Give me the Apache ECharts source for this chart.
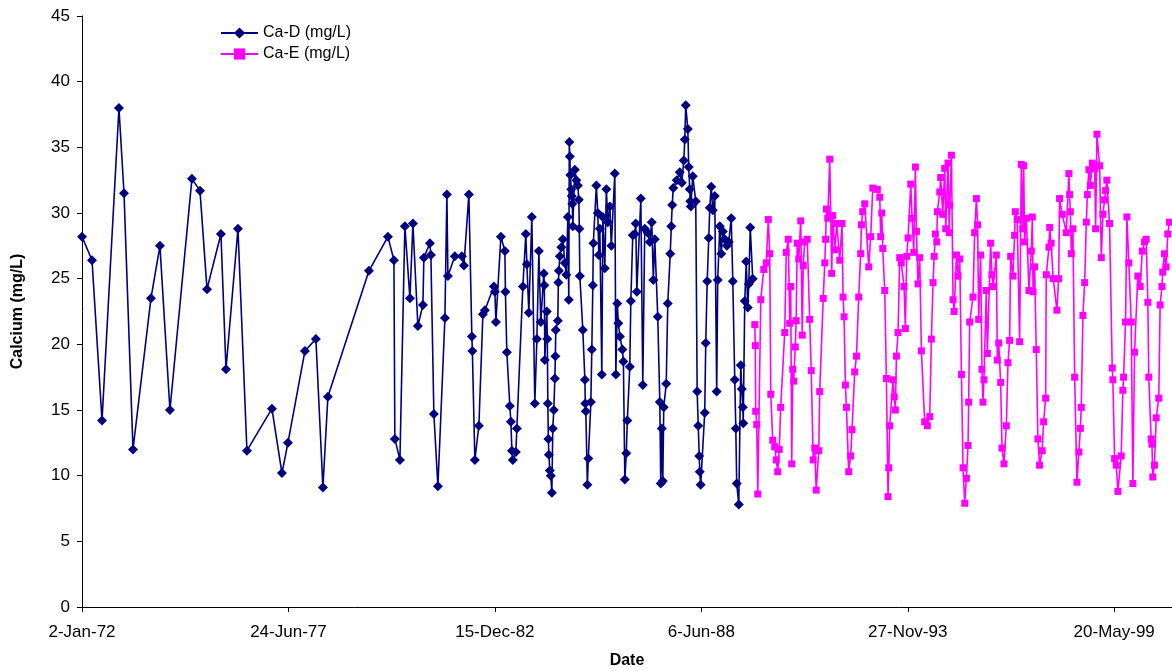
<!DOCTYPE html>
<html>
<head>
<meta charset="utf-8">
<script src="https://cdn.jsdelivr.net/npm/echarts@6/dist/echarts.min.js"></script>
<style>
html,body{margin:0;padding:0;background:#fff;}
#chart{width:1172px;height:671px;}
</style>
</head>
<body>
<div id="chart"></div>
<script>
// Dates are stored as day numbers counted from 2-Jan-1972 (day 0)
const epochUTC = Date.UTC(1972, 0, 2);
const xTickInterval = 2000;
const xMax = 10560;
const yTicks = [0, 5, 10, 15, 20, 25, 30, 35, 40, 45];

const daysD = [0,97,194,358,407,494,668,755,852,1065,1143,1211,1346,1395,1511,1598,1840,1937,1995,2160,2266,2334,2382,2780,
2964,3022,3031,3080,3128,3177,3206,3254,3303,3312,3370,3380,3409,3448,3516,3535,3545,3612,3680,3700,3748,3777,3782,3806,3845,3884,3903,
3990,4000,4010,4058,4097,4102,4116,4145,4155,4165,4174,4203,4213,4271,4300,4310,4329,4358,4387,4407,4426,4445,4474,4479,4484,4503,4508,
4513,4518,4523,4532,4542,4552,4561,4571,4581,4586,4590,4610,4615,4620,4629,4644,4658,4678,4692,4707,4716,4721,4726,4731,4740,4745,4750,
4755,4775,4789,4804,4813,4818,4823,4852,4872,4876,4881,4896,4905,4930,4939,4949,4954,4983,4997,5007,5017,5036,5046,5065,5080,5094,5114,
5128,5162,5172,5186,5196,5211,5235,5245,5259,5273,5283,5307,5317,5336,5356,5365,5375,5414,5433,5452,5481,5501,5520,5535,5549,5578,5598,
5607,5617,5627,5636,5660,5675,5699,5709,5718,5728,5762,5791,5811,5830,5840,5849,5869,5878,5888,5893,5898,5917,5946,5960,5970,5980,5985,
5994,6033,6043,6057,6072,6082,6096,6111,6130,6149,6159,6179,6193,6208,6227,6247,6266,6290,6305,6324,6334,6343,6363,6382,6392,6402,6406,
6421,6435,6450,6460,6474,6498];
const caD = [28.2,26.4,14.2,38.0,31.5,12.0,23.5,27.5,15.0,32.6,31.7,24.2,28.4,18.1,28.8,11.9,15.1,10.2,12.5,19.5,20.4,9.1,16.0,25.6,
28.2,26.4,12.8,11.2,29.0,23.5,29.2,21.4,23.0,26.6,27.7,26.8,14.7,9.2,22.0,31.4,25.2,26.7,26.7,26.0,31.4,20.6,19.5,11.2,13.8,22.3,22.6,
24.4,24.0,21.7,28.2,27.1,24.0,19.4,15.3,14.1,11.9,11.2,11.8,13.6,24.4,28.4,26.1,22.4,29.7,15.5,20.4,27.1,21.7,25.4,24.5,18.8,22.5,20.4,
15.5,12.8,11.6,10.4,10.0,8.7,13.6,15.0,17.4,19.1,21.1,21.8,24.7,25.6,26.7,27.4,28.0,26.2,25.3,29.7,23.4,35.4,34.3,32.9,31.8,31.3,30.7,
29.0,33.3,32.5,32.1,31.0,28.8,25.2,21.1,17.3,15.5,14.9,9.3,11.3,15.6,19.6,24.5,27.7,32.1,30.0,26.8,28.8,17.7,29.7,25.8,31.8,29.3,30.5,
27.5,33.0,17.7,23.1,21.6,20.6,19.6,18.7,9.7,11.7,14.2,18.3,23.3,28.3,28.4,29.2,24.0,31.1,16.9,28.8,28.5,27.8,29.3,24.9,28.0,22.1,15.6,
9.4,13.6,9.6,15.2,17.0,23.1,26.9,29.0,30.6,31.9,32.5,33.1,32.3,34.0,35.6,38.2,36.4,33.5,31.8,30.9,30.5,32.8,30.9,16.4,13.8,11.5,10.3,
9.3,14.8,20.1,24.8,28.1,30.4,32.0,30.2,31.3,16.4,24.9,29.0,26.9,28.6,28.0,27.5,27.8,29.6,24.8,17.3,13.6,9.4,7.8,18.4,16.6,15.2,14.0,
23.3,26.3,22.8,24.6,28.9,25.0];

const daysE = [6518,6523,6527,6537,6547,6576,6605,6629,6649,6663,6673,6692,6711,6726,6740,6755,6769,6808,6823,6842,6857,6866,6876,6886,
6895,6910,6919,6929,6944,6963,6978,6987,7002,7026,7050,7065,7084,7099,7113,7138,7147,7181,7196,7204,7212,7225,7244,7254,7263,7273,7292,
7312,7341,7363,7373,7383,7396,7406,7428,7447,7460,7486,7503,7525,7544,7551,7564,7583,7622,7641,7661,7705,7729,7738,7748,7758,7777,7793,
7809,7816,7825,7857,7869,7880,7890,7906,7922,7937,7964,7977,7990,8003,8029,8042,8058,8074,8084,8099,8116,8132,8164,8190,8213,8229,8245,
8256,8268,8281,8287,8310,8319,8339,8358,8368,8390,8402,8407,8423,8439,8449,8472,8487,8504,8520,8536,8552,8568,8584,8590,8600,8632,8648,
8665,8677,8687,8706,8719,8729,8738,8761,8771,8803,8816,8827,8858,8868,8881,8900,8913,8932,8955,8971,8987,8997,9019,9035,9042,9060,9084,
9100,9113,9123,9132,9149,9174,9197,9207,9214,9229,9245,9261,9277,9302,9316,9336,9342,9368,9375,9389,9409,9445,9462,9471,9497,9536,9561,
9568,9575,9585,9600,9617,9639,9658,9672,9681,9697,9714,9730,9740,9755,9769,9788,9811,9820,9833,9859,9875,9891,9907,9917,9929,9955,9981,
9987,10004,10020,10036,10068,10084,10091,10110,10123,10142,10165,10181,10197,10229,10252,10272,10294,10310,10326,10335,10358,10366,
10374,10390,10407,10432,10445,10463,10470,10487,10503,10519,10535];
const caE = [21.5,19.9,14.9,13.9,8.6,23.4,25.7,26.2,29.5,26.9,16.2,12.7,12.2,11.2,10.3,12.0,15.2,20.9,27.0,28.0,21.6,24.4,10.9,18.1,
17.2,19.8,21.8,27.7,26.5,29.4,20.7,26.0,27.8,28.0,21.9,18.0,11.2,12.1,8.9,11.9,16.4,23.5,26.2,28.0,30.3,29.6,34.1,29.8,25.4,29.8,27.2,
29.2,26.4,29.2,23.6,22.1,16.9,15.2,10.3,11.5,13.5,17.9,19.1,23.6,26.9,29.1,30.1,30.7,25.9,28.2,31.9,31.8,31.2,28.2,30.0,27.3,24.1,17.4,
8.4,10.6,13.8,17.3,16.0,15.0,19.1,20.9,26.6,26.2,24.4,21.2,26.7,28.1,32.2,29.6,27.0,33.5,28.6,24.6,26.6,19.5,14.1,13.8,14.5,20.4,24.7,
26.7,28.4,27.8,30.1,31.6,32.7,29.9,33.4,28.8,33.8,28.5,30.6,34.4,23.4,22.5,26.8,25.2,26.5,17.7,10.6,7.9,9.8,12.3,15.6,21.7,23.6,28.5,
31.1,29.1,21.9,26.8,18.1,15.6,17.3,24.1,19.3,27.7,25.3,24.4,26.8,18.8,20.1,17.1,12.1,10.9,13.8,18.6,20.3,26.7,25.2,28.3,30.1,29.5,20.2,
33.7,28.8,33.6,27.8,29.6,24.1,27.1,29.7,24.0,25.9,19.6,12.8,10.8,11.9,14.1,15.9,25.3,27.4,28.9,27.7,25.0,22.6,25.0,31.1,29.9,28.5,33.0,
31.4,30.1,26.9,28.8,17.5,9.5,11.8,13.6,15.2,22.2,24.7,29.3,31.4,33.3,32.1,33.8,33.4,28.8,36.0,33.6,26.6,29.9,31.0,31.7,32.5,29.2,18.2,
17.3,11.3,10.8,8.8,11.5,16.5,17.5,21.7,29.7,26.2,21.7,9.4,19.4,25.2,24.4,27.1,27.8,28.0,23.2,17.5,
12.8,12.4,9.9,10.8,14.4,15.9,23.0,24.4,25.5,26.9,25.9,28.4,29.3];

const seriesNames = ['Ca-D (mg/L)', 'Ca-E (mg/L)'];
const months = ['Jan','Feb','Mar','Apr','May','Jun','Jul','Aug','Sep','Oct','Nov','Dec'];

function fmtDay(v) {
  const d = new Date(epochUTC + v * 86400000);
  return d.getUTCDate() + '-' + months[d.getUTCMonth()] + '-' + String(d.getUTCFullYear()).slice(2);
}
function pairs(xs, ys) { return xs.map((x, i) => [x, ys[i]]); }

const FONT = '"Liberation Sans", Arial, sans-serif';
const chart = echarts.init(document.getElementById('chart'), null, {renderer: 'canvas'});
chart.setOption({
  animation: false,
  backgroundColor: '#ffffff',
  textStyle: {fontFamily: FONT, color: '#000'},
  grid: {left: 82, right: 0, top: 16, bottom: 64, outerBoundsMode: 'none', containLabel: false},
  legend: {
    orient: 'vertical', left: 215, top: 20, itemWidth: 37, itemHeight: 14, itemGap: 5,
    textStyle: {fontFamily: FONT, fontSize: 16, color: '#000'},
    data: seriesNames
  },
  xAxis: {
    type: 'value', min: 0, max: xMax, interval: xTickInterval,
    name: 'Date', nameLocation: 'middle', nameGap: 46,
    nameTextStyle: {fontFamily: FONT, fontSize: 16, fontWeight: 'bold', color: '#000'},
    axisLine: {show: true, lineStyle: {color: '#000', width: 1}},
    axisTick: {show: true, length: 5, lineStyle: {color: '#000'}},
    splitLine: {show: false},
    axisLabel: {
      fontFamily: FONT, fontSize: 17, color: '#000', margin: 17, showMaxLabel: false,
      formatter: v => (v % xTickInterval === 0 ? fmtDay(v) : '')
    }
  },
  yAxis: {
    type: 'value', min: yTicks[0], max: yTicks[yTicks.length - 1], interval: 5,
    name: 'Calcium (mg/L)', nameLocation: 'middle', nameGap: 56, nameRotate: 90,
    nameTextStyle: {fontFamily: FONT, fontSize: 16, fontWeight: 'bold', color: '#000'},
    axisLine: {show: true, lineStyle: {color: '#000', width: 1}},
    axisTick: {show: true, length: 5, lineStyle: {color: '#000'}},
    splitLine: {show: false},
    axisLabel: {fontFamily: FONT, fontSize: 17, color: '#000', margin: 12}
  },
  series: [
    {
      name: seriesNames[0], type: 'line', data: pairs(daysD, caD),
      symbol: 'diamond', symbolSize: [10, 10], showSymbol: true,
      lineStyle: {color: '#000080', width: 1.6},
      itemStyle: {color: '#000080', borderWidth: 0},
      emphasis: {disabled: true}, z: 2
    },
    {
      name: seriesNames[1], type: 'line', data: pairs(daysE, caE),
      symbol: 'rect', symbolSize: 7, showSymbol: true,
      lineStyle: {color: '#FF00FF', width: 1.6},
      itemStyle: {color: '#FF00FF', borderWidth: 0},
      emphasis: {disabled: true}, z: 3
    }
  ]
});
</script>
</body>
</html>
